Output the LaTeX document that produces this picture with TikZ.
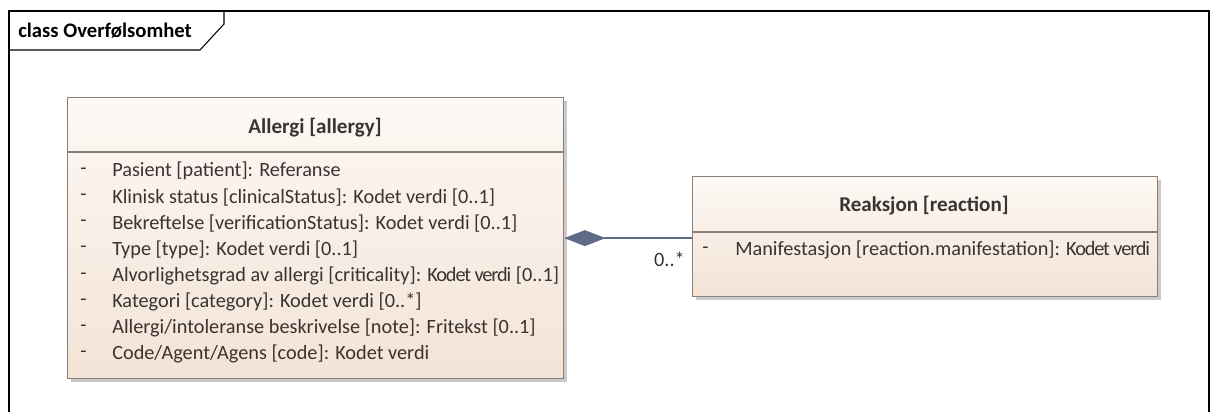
\documentclass[tikz,border=0pt]{standalone}
\usepackage{fontspec}
\setmainfont{Carlito}
\usetikzlibrary{arrows.meta,shadows}
\definecolor{boxline}{HTML}{8E7F76}
\definecolor{boxfillA}{HTML}{FDF9F5}
\definecolor{boxfillB}{HTML}{F3E3D6}
\definecolor{txt}{HTML}{3A3330}
\definecolor{conn}{HTML}{5E6A86}
\newcommand{\kv}{{\addfontfeature{LetterSpace=-5.5}Kodet verdi}}
\tikzset{
  x=0.75pt, y=-0.75pt,
  classbox/.style={draw=boxline, line width=0.9pt, anchor=north west, inner sep=0pt,
    left color=boxfillA, right color=boxfillB, shading angle=0,
    drop shadow={shadow xshift=2.5pt, shadow yshift=-2.5pt, fill=black!35, opacity=0.6}},
  title/.style={font=\fontsize{15.8}{18}\selectfont\bfseries, text=txt, inner sep=0pt},
  attr/.style={font=\fontsize{15.2}{17}\selectfont, text=txt, anchor=west, inner sep=0pt},
  frameline/.style={draw=black, line width=0.8pt},
}
\begin{document}
\begin{tikzpicture}
\useasboundingbox (0,0) rectangle (1213,412);
% frame
\draw[frameline] (9,412) -- (9,11) -- (1209,11) -- (1209,412);
\draw[frameline] (9,50) -- (200,50) -- (224,24) -- (224,11);
\node[font=\fontsize{15.5}{17}\selectfont\bfseries, anchor=west, inner sep=0pt] (frametitle) at (18,31) {class Overfølsomhet};

% Allergi
\node[classbox, minimum width=372pt, minimum height=210.75pt] (allergy) at (67,97) {};
\draw[boxline, line width=0.9pt] (67,152) coordinate (asep1) -- (563,152) coordinate (asep2);
\node[title] (allergytitle) at (315,128) {Allergi [allergy]};
\foreach \i/\t in {0/{Pasient [patient]: Referanse},
  1/{Klinisk status [clinicalStatus]: Kodet verdi [0..1]},
  2/{Bekreftelse [verificationStatus]: Kodet verdi [0..1]},
  3/{Type [type]: Kodet verdi [0..1]},
  4/{Alvorlighetsgrad av allergi [criticality]: \kv{} [0..1]},
  5/{Kategori [category]: Kodet verdi [0..*]},
  6/{Allergi/intoleranse beskrivelse [note]: Fritekst [0..1]},
  7/{Code/Agent/Agens [code]: Kodet verdi}} {
  \node[attr] (ad\i) at (80,{171+26.2*\i}) {-};
  \node[attr] (aa\i) at (112,{171+26.2*\i}) {\t};
}

% Reaksjon
\node[classbox, minimum width=348.75pt, minimum height=90pt] (reaction) at (692,176) {};
\draw[boxline, line width=0.9pt] (692,232) coordinate (rsep1) -- (1157,232) coordinate (rsep2);
\node[title] (reactiontitle) at (924,206) {Reaksjon [reaction]};
\node[attr] (rd0) at (702,250) {-};
\node[attr] (ra0) at (735,250) {Manifestasjon [reaction.manifestation]: \kv};

% connector
\draw[conn, line width=1.1pt, {Diamond[length=31pt,width=12pt,fill=conn]}-] (allergy.east) -- (allergy.east -| reaction.west);
\node[attr, anchor=east] (mult) at (685,259) {0..*};
\end{tikzpicture}
\end{document}
